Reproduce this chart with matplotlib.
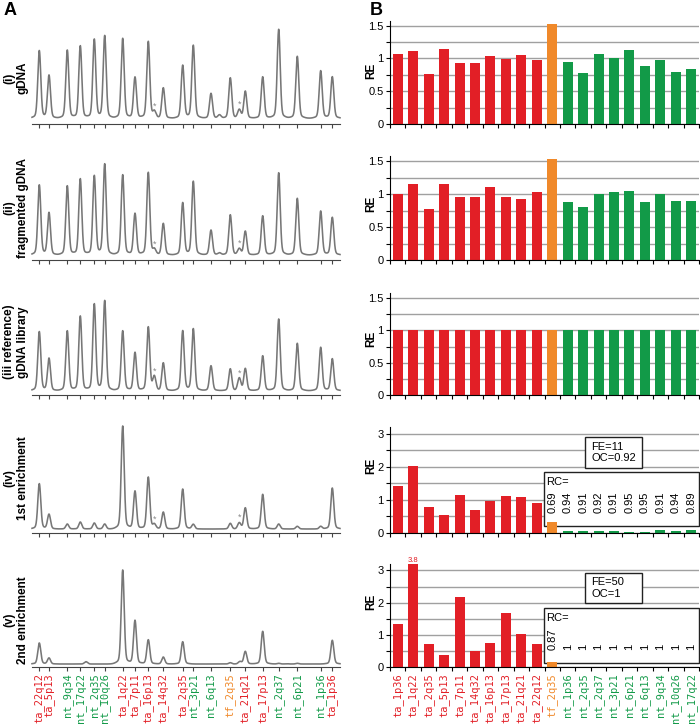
import matplotlib.pyplot as plt
import numpy as np
from matplotlib.patches import Rectangle
from matplotlib.transforms import blended_transform_factory

plt.rcParams['font.family'] = ['Liberation Sans', 'DejaVu Sans']

W, H = 700, 728
RED, ORANGE, GREEN = '#E21F26', '#F0892A', '#129A48'

# ---- A: capillary traces, peak tops ----
peak_names = ["ta_22q12", "ta_5p13", "nt_9q34", "nt_17q22", "nt_2q35", "nt_10q26",
              "ta_1q22", "ta_7p11", "ta_16p13", "ta_14q32", "ta_2q35", "nt_3p21",
              "nt_6q13", "tf_2q35", "ta_21q21", "ta_17p13", "nt_2q37", "nt_6p21",
              "nt_1p36", "ta_1p36"]
peak_pos = [39.3, 49, 67.3, 80.3, 94.3, 104.7, 122.7, 135, 148.3, 163.3,
            182.7, 193.3, 211, 230.3, 245.3, 262.7, 278.7, 297.3, 320.7, 332.3]

trace_gdna = [73.3, 48.7, 74, 78.3, 84.7, 88.3, 85.7, 47, 82.7, 36.3,
              58.7, 78.7, 30.7, 46.3, 33, 47.3, 94.7, 67.7, 53.3, 47.3]
trace_frag = [75, 47.3, 74.3, 81.3, 84.3, 96, 85.3, 46.7, 87.7, 36.7,
              57.3, 78.7, 30, 45.3, 29, 44.3, 87.3, 61.7, 49, 42.7]
trace_lib = [63.3, 36.7, 64.3, 79, 91, 94.3, 64.3, 42.7, 68.3, 32.3,
             64.3, 66.3, 29.3, 26.3, 26.7, 39.3, 76, 51.7, 47.7, 36.3]
trace_enr1 = [49.3, 18.7, 9, 11, 10, 9, 107, 42, 56, 21,
              44, 8.7, 4, 9.7, 25.3, 38.7, 9, 6.7, 6.7, 45]
trace_enr2 = [24, 9, 3, 3, 3, 3, 97, 46.7, 27.3, 10,
              25.3, 3, 3, 4.3, 15.7, 35.7, 3.7, 3.7, 3, 26.7]

# small side peaks (position, top); the * marks sit on the first two
extra_gdna = [(154.3, 12), (239.3, 14), (219.5, 9)]
extra_frag = [(154.3, 10), (239.3, 11), (219.5, 7)]
extra_lib = [(154.3, 18), (239.3, 16.7)]
extra_enr1 = [(154.3, 8.3), (239.3, 10)]
extra_enr2 = [(86, 5.3), (240, 5.3), (286.7, 3.3)]

baselines = [5.7, 5, 4.3, 4, 3]
traces = [trace_gdna, trace_frag, trace_lib, trace_enr1, trace_enr2]
extras = [extra_gdna, extra_frag, extra_lib, extra_enr1, extra_enr2]
has_star = [True, True, True, True, False]
row_titles = ["(i)\ngDNA", "(ii)\nfragmented gDNA", "(iii reference)\ngDNA library",
              "(iv)\n1st enrichment", "(v)\n2nd enrichment"]

# ---- B: relative enrichment ----
cats = ["ta_1p36", "ta_1q22", "ta_2q35", "ta_5p13", "ta_7p11", "ta_14q32", "ta_16p13",
        "ta_17p13", "ta_21q21", "ta_22q12", "tf_2q35", "nt_1p36", "nt_2q35", "nt_2q37",
        "nt_3p21", "nt_6p21", "nt_6q13", "nt_9q34", "nt_10q26", "nt_17q22"]
re_gdna = [1.07, 1.12, 0.76, 1.14, 0.93, 0.93, 1.03, 0.99, 1.05, 0.98,
           1.52, 0.94, 0.78, 1.06, 1.01, 1.13, 0.88, 0.97, 0.80, 0.84]
re_frag = [1.01, 1.16, 0.77, 1.16, 0.95, 0.95, 1.11, 0.96, 0.93, 1.03,
           1.54, 0.88, 0.80, 1.00, 1.03, 1.05, 0.88, 1.01, 0.90, 0.90]
re_lib = [1, 1, 1, 1, 1, 1, 1, 1, 1, 1, 1, 1, 1, 1, 1, 1, 1, 1, 1, 1]
re_enr1 = [1.43, 2.03, 0.80, 0.54, 1.16, 0.70, 0.97, 1.12, 1.08, 0.92,
           0.32, 0.05, 0.07, 0.06, 0.07, 0.04, 0.04, 0.08, 0.05, 0.09]
re_enr2 = [1.35, 3.8, 0.73, 0.36, 2.16, 0.51, 0.76, 1.69, 1.02, 0.70,
           0.15, 0, 0, 0, 0, 0, 0, 0, 0, 0]
rc_enr1 = ["0.69", "0.94", "0.91", "0.92", "0.91", "0.95", "0.95", "0.91", "0.94", "0.89"]
rc_enr2 = ["0.87", "1", "1", "1", "1", "1", "1", "1", "1", "1"]
fe_enr1 = "FE=11\nOC=0.92"
fe_enr2 = "FE=50\nOC=1"

re_rows = [re_gdna, re_frag, re_lib, re_enr1, re_enr2]
row_px = [(21, 124), (156, 260), (293, 395), (427, 533), (564, 667)]
re_ymax = [1.57, 1.58, 1.58, 3.2, 3.2]
title_y = [78, 208, 342, 478, 620]
re_label_y = [71, 204, 339, 466, 602]

fig = plt.figure(figsize=(7.0, 7.28), dpi=100)


def px_axes(x0, top, x1, bottom):
    return fig.add_axes([x0 / W, 1 - bottom / H, (x1 - x0) / W, (bottom - top) / H])


def name_color(n):
    return {"ta": RED, "tf": ORANGE, "nt": GREEN}[n[:2]]


def gauss(x, p, s):
    return np.exp(-0.5 * ((x - p) / s) ** 2)


fig.text(4 / W, 1 - 2 / H, "A", fontsize=13, fontweight='bold', va='top')
fig.text(370 / W, 1 - 2 / H, "B", fontsize=13, fontweight='bold', va='top')

xs = np.linspace(32, 340, 4000)
for i, (top, bottom) in enumerate(row_px):
    # ---- left trace ----
    ax = px_axes(32, top, 340, bottom)
    base = baselines[i]
    y = np.full_like(xs, base)
    for p, h in zip(peak_pos, traces[i]):
        amp = max(h - base, 0) / 1.06
        y += amp * gauss(xs, p, 1.45) + 0.06 * amp * gauss(xs, p, 4.5)
    for p, h in extras[i]:
        y += (h - base) * gauss(xs, p, 1.6)
    ax.plot(xs, y, color='#777777', lw=1.15, clip_on=False)
    if has_star[i]:
        for p, h in extras[i][:2]:
            ax.text(p, h + 1, "*", color='#888888', fontsize=6.5, ha='center', va='bottom')
    ax.set_xlim(32, 340)
    ax.set_ylim(0, bottom - top)
    for s in ['left', 'right', 'top']:
        ax.spines[s].set_visible(False)
    ax.spines['bottom'].set_color('#444444')
    ax.set_yticks([])
    ax.set_xticks(peak_pos)
    ax.tick_params(axis='x', direction='out', length=3, width=0.8, color='#444444', pad=1.5)
    if i == 4:
        ax.set_xticklabels(peak_names, rotation=90, family='DejaVu Sans Mono', fontsize=7.5, va='top')
        for lab, n in zip(ax.get_xticklabels(), peak_names):
            lab.set_color(name_color(n))
    else:
        ax.set_xticklabels([])
    fig.text(16 / W, 1 - title_y[i] / H, row_titles[i], rotation=90, fontsize=8.5,
             fontweight='bold', ha='center', va='center', multialignment='center')

    # ---- right bars ----
    bx = px_axes(390, top, 699, bottom)
    bx.bar(range(len(cats)), re_rows[i], width=0.65,
           color=[name_color(c) for c in cats], zorder=2)
    bx.set_xlim(-0.5, len(cats) - 0.5)
    bx.set_ylim(0, re_ymax[i])
    for s in ['right', 'top']:
        bx.spines[s].set_visible(False)
    bx.set_axisbelow(True)
    if i < 3:
        bx.set_yticks([0, 0.5, 1, 1.5])
        bx.set_yticklabels(["0", "0.5", "1", "1.5"])
        bx.set_yticks([0.25, 0.75, 1.25], minor=True)
    else:
        bx.set_yticks([0, 1, 2, 3])
        bx.set_yticklabels(["0", "1", "2", "3"])
        bx.set_yticks([0.5, 1.5, 2.5], minor=True)
    bx.grid(axis='y', which='both', color='#a0a0a0', lw=1)
    bx.tick_params(axis='y', which='both', direction='out', length=3, width=0.8, labelsize=8, pad=1.5)
    bx.set_xticks(np.arange(-0.5, len(cats), 1))
    bx.set_xticklabels([])
    bx.set_xticks(range(len(cats)), minor=True)
    bx.tick_params(axis='x', which='major', direction='out', length=3, width=0.8)
    bx.tick_params(axis='x', which='minor', length=0, pad=4.5)
    if i == 4:
        bx.set_xticklabels(cats, minor=True, rotation=90, family='DejaVu Sans Mono',
                           fontsize=7.5, va='top')
        for lab, c in zip(bx.get_xticklabels(minor=True), cats):
            lab.set_color(name_color(c))
    fig.text(371 / W, 1 - re_label_y[i] / H, "RE", rotation=90, fontsize=8.5,
             fontweight='bold', ha='center', va='center')

    if i >= 3:
        fe_txt = fe_enr1 if i == 3 else fe_enr2
        rc_vals = rc_enr1 if i == 3 else rc_enr2
        h_ax = bottom - top
        fe_top, fe_bot = (437, 468) if i == 3 else (573, 603)
        rc_top, rc_bot = (472, 526) if i == 3 else (608, 663)
        num_bot = 513 if i == 3 else 650
        fy = lambda py: (bottom - py) / h_ax
        fx = lambda px: (px - 390) / 309
        bx.add_patch(Rectangle((fx(585), fy(fe_bot)), fx(642) - fx(585), fy(fe_top) - fy(fe_bot),
                               transform=bx.transAxes, facecolor='white', edgecolor='#222222',
                               lw=1, zorder=1.5, clip_on=False))
        bx.text(fx(591), fy((fe_top + fe_bot) / 2), fe_txt, transform=bx.transAxes,
                fontsize=8, ha='left', va='center', zorder=3)
        bx.add_patch(Rectangle((fx(544), fy(rc_bot)), fx(699) - fx(544), fy(rc_top) - fy(rc_bot),
                               transform=bx.transAxes, facecolor='white', edgecolor='#222222',
                               lw=1, zorder=1.5, clip_on=False))
        bx.text(fx(546), fy(rc_top + 10), "RC=", transform=bx.transAxes,
                fontsize=8, ha='left', va='center', zorder=3)
        tr = blended_transform_factory(bx.transData, bx.transAxes)
        for k, v in enumerate(rc_vals):
            bx.text(10 + k, fy(num_bot), v, transform=tr, rotation=90, fontsize=8,
                    ha='center', va='bottom', zorder=3)
        if i == 4:
            bx.text(1, re_ymax[i], "3.8", color=RED, fontsize=5.5, ha='center',
                    va='bottom', clip_on=False)

fig.savefig("out.png", dpi=100)
